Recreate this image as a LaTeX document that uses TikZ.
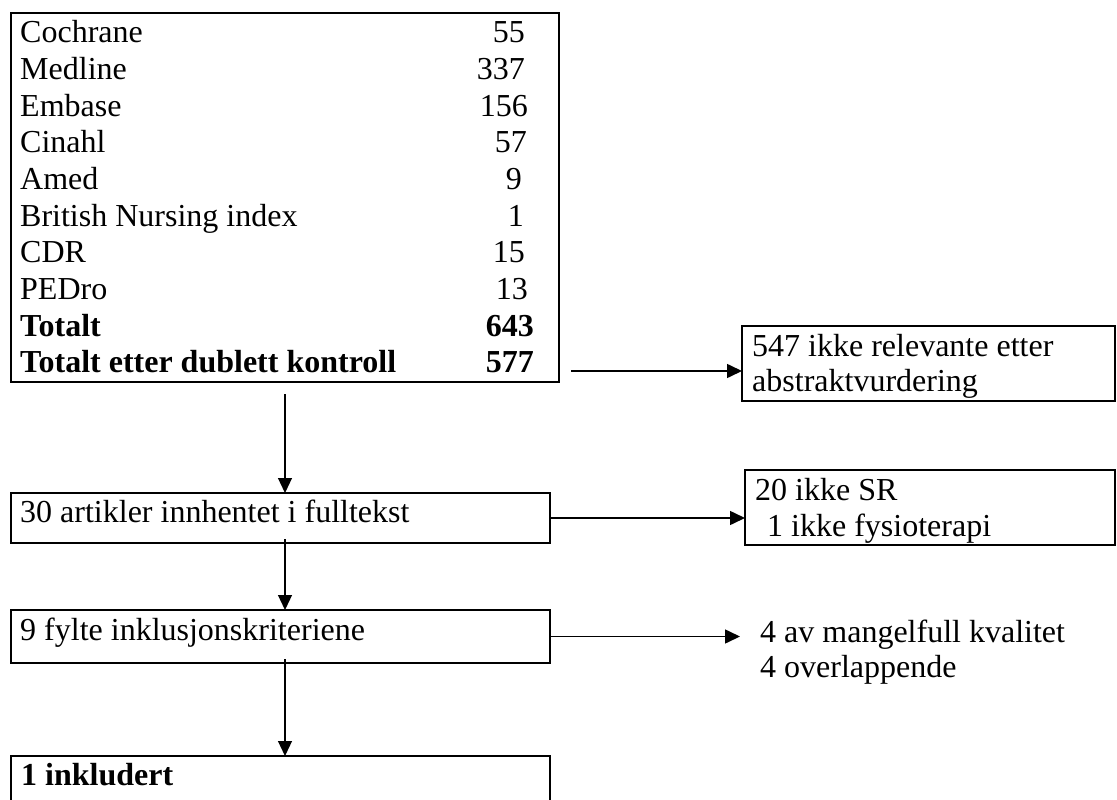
\documentclass[tikz,border=0pt]{standalone}
\usepackage{fontspec}
\setmainfont{Liberation Serif}
\usetikzlibrary{arrows.meta}

\tikzset{
  box/.style={draw, line width=2pt, inner sep=0pt, outer sep=0pt, anchor=north west},
  txt/.style={font=\fontsize{32}{36.65}\selectfont, inner sep=0pt, anchor=base west},
  arr/.style={-{Triangle[length=15pt,width=14pt]}, line width=1.2pt},
  harr/.style={arr, line width=1.6pt}
}

\begin{document}
\begin{tikzpicture}[x=1pt,y=-1pt]
 \clip (0,0) rectangle (1117,800);

 % boxes
 \node[box, minimum width=548pt, minimum height=369pt] (srch) at (11,13) {};
 \node[box, minimum width=373pt, minimum height=75pt] (irr) at (742,326) {};
 \node[box, minimum width=539pt, minimum height=50pt] (full) at (11,493) {};
 \node[box, minimum width=370pt, minimum height=75pt] (excl) at (745,470) {};
 \node[box, minimum width=539pt, minimum height=53pt] (incl) at (11,610) {};
 \node[box, minimum width=539pt, minimum height=60pt] (final) at (11,756) {};

 % databases
 \foreach \db/\hits/\xr [count=\i from 0] in {Cochrane/55/525, Medline/337/525,
   Embase/156/528, Cinahl/57/527, Amed/9/522, British Nursing index/1/524,
   CDR/15/525, PEDro/13/528}
 {
  \node[txt] (db\i) at (20,{43+36.65*\i}) {\db};
  \node[txt, anchor=base east] (hits\i) at (\xr,{43+36.65*\i}) {\hits};
 }
 \node[txt, font=\fontsize{32}{36.65}\selectfont\bfseries] (tot) at (20,336.2) {Totalt};
 \node[txt, font=\fontsize{32}{36.65}\selectfont\bfseries, anchor=base east] (totn) at (534,336.2) {643};
 \node[txt, font=\fontsize{32}{36.65}\selectfont\bfseries] (dub) at (20,372.9) {Totalt etter dublett kontroll};
 \node[txt, font=\fontsize{32}{36.65}\selectfont\bfseries, anchor=base east] (dubn) at (534,372.9) {577};

 \node[txt] (irr1) at (752,356) {547 ikke relevante etter};
 \node[txt] (irr2) at (752,391) {abstraktvurdering};
 \node[txt] (fullt) at (20,522) {30 artikler innhentet i fulltekst};
 \node[txt] (excl1) at (755,500) {20 ikke SR};
 \node[txt] (excl2) at (767,536) {1 ikke fysioterapi};
 \node[txt] (inclt) at (20,640) {9 fylte inklusjonskriteriene};
 \node[txt] (qual1) at (760,642) {4 av mangelfull kvalitet};
 \node[txt] (qual2) at (760,677) {4 overlappende};
 \node[txt, font=\fontsize{32}{36.65}\selectfont\bfseries] (finalt) at (21,785) {1 inkludert};

 % arrows
 \coordinate (a1) at (571,371);
 \coordinate (v1) at (285,394);
 \coordinate (v2) at (285,539);
 \coordinate (v3) at (285,659);
 \coordinate (q) at (740,636.5);

 \draw[harr] (a1) -- (a1 -| irr.west);
 \draw[arr] (v1) -- (v1 |- full.north);
 \draw[harr] (full.east) -- (full.east -| excl.west);
 \draw[arr] (v2) -- (v2 |- incl.north);
 \draw[harr] (incl.east) -- (q);
 \draw[arr] (v3) -- (v3 |- final.north);
\end{tikzpicture}
\end{document}
